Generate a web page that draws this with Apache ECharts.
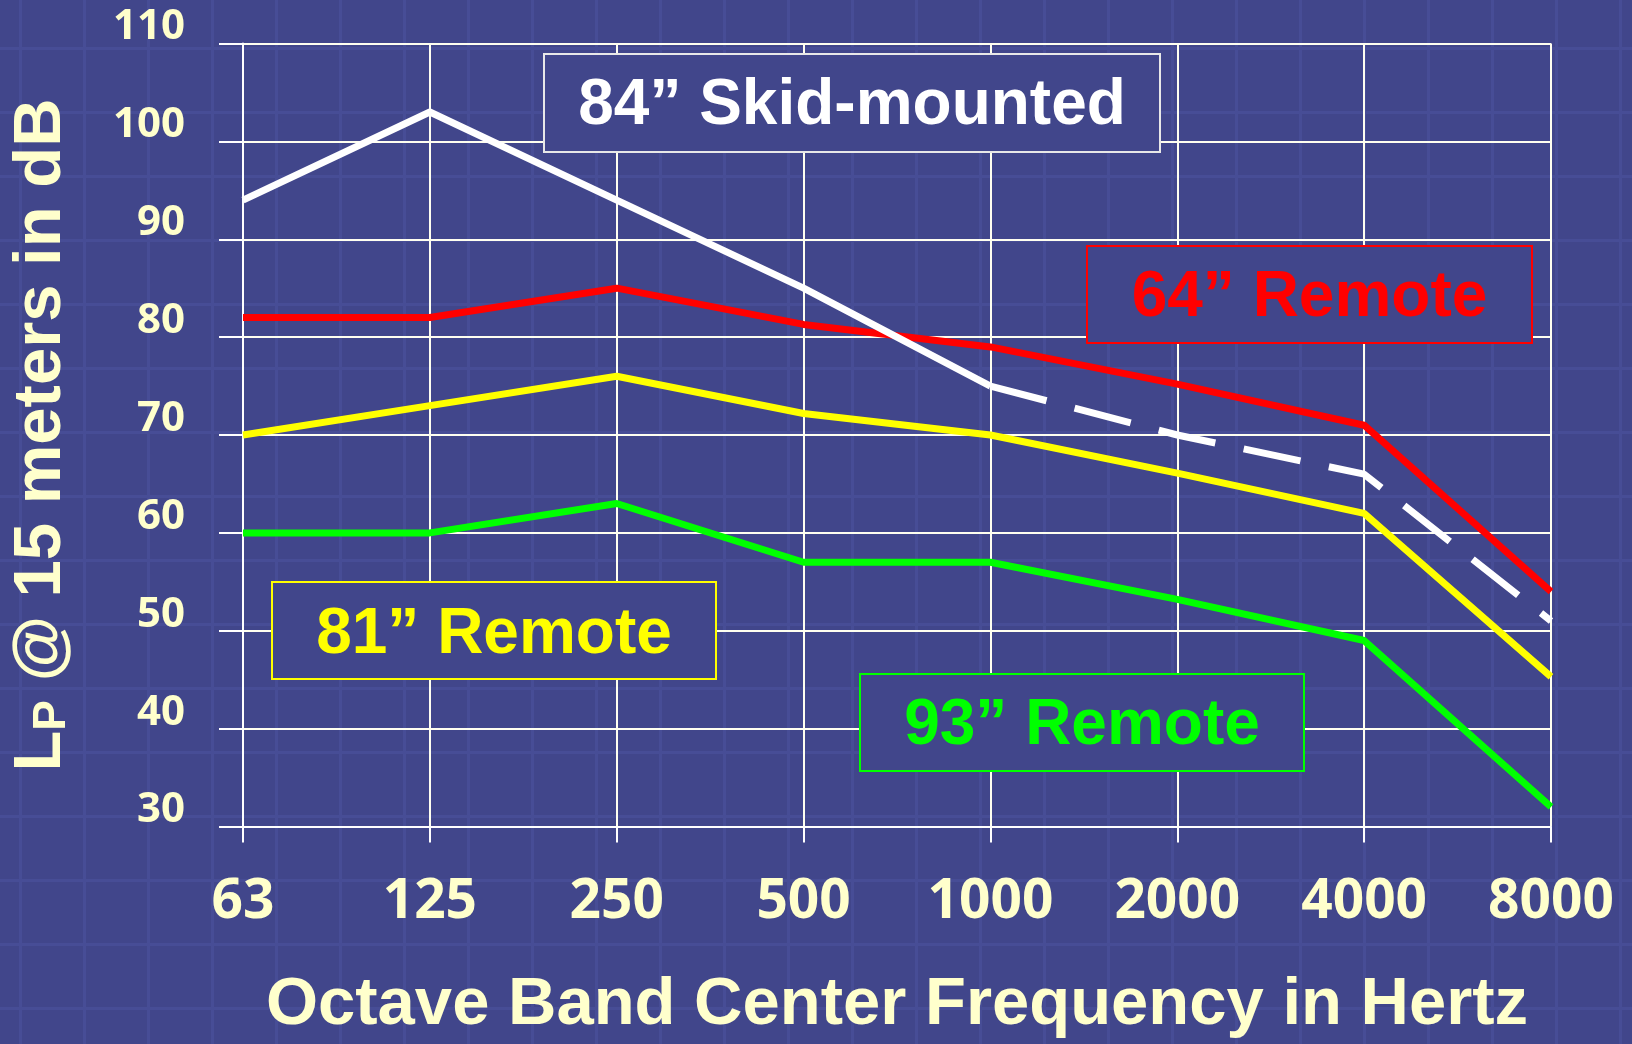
<!DOCTYPE html>
<html>
<head>
<meta charset="utf-8">
<title>Octave band levels at 15 m</title>
<script src="https://cdn.jsdelivr.net/npm/echarts@6/dist/echarts.min.js"></script>
<style>
html, body { margin:0; padding:0; }
#main {
  width:1632px;
  height:1044px;
  background-color:#41468b;
  /* faint slide grid behind the chart */
  background-image:
    linear-gradient(to right, #474d96 3px, transparent 3px),
    linear-gradient(to bottom, #474d96 3px, transparent 3px);
  background-size:64px 64px;
  background-position:19px 47px;
}
</style>
</head>
<body>
<div id="main"></div>
<script>
// octave band centres (Hz)
const freqs = ['63', '125', '250', '500', '1000', '2000', '4000', '8000'];

// Lp @ 15 m in dB
const skid84   = [94, 103, 94, 85, 75, 70, 66, 51];
const remote64 = [82, 82, 85, 81.3, 79, 75.2, 71, 54];
const remote81 = [70, 73, 76, 72.2, 70, 66.1, 62, 45.3];
const remote93 = [60, 60, 63, 57, 57, 53.2, 49, 32];

// skid curve is dashed from 1000 Hz up
const dashFrom = 4;
const skidSolid  = skid84.map((v, i) => (i <= dashFrom ? v : null));
const skidDashed = skid84.map((v, i) => (i >= dashFrom ? v : null));

const yMin = 30, yMax = 110, yStep = 10;

const bg = '#41468b';
const cream = '#ffffcc';
const titleFont = '"Liberation Sans", Arial, sans-serif';
const tickFont = '"Open Sans", "Liberation Sans", sans-serif';

function box(x, y, w, h, border, color, text, ty) {
  return [
    {
      type: 'rect', z: 100,
      shape: { x: x, y: y, width: w, height: h },
      style: { fill: bg, stroke: border, lineWidth: 2 }
    },
    {
      type: 'text', z: 101,
      x: x + w / 2, y: ty,
      style: {
        text: text, fill: color,
        font: 'bold 64px ' + titleFont,
        align: 'center', verticalAlign: 'middle'
      }
    }
  ];
}

const chart = echarts.init(document.getElementById('main'), null, { renderer: 'canvas' });

const option = {
  backgroundColor: 'transparent',
  animation: false,
  grid: { left: 243, right: 81, top: 43.5, bottom: 211, containLabel: false },
  xAxis: {
    type: 'category',
    data: freqs,
    boundaryGap: false,
    name: 'Octave Band Center Frequency in Hertz',
    nameLocation: 'middle',
    nameGap: 179,
    nameTextStyle: {
      color: cream, fontSize: 67, fontWeight: 'bold', fontFamily: titleFont,
      verticalAlign: 'middle'
    },
    axisLine: { show: true, lineStyle: { color: '#ffffff', width: 2 } },
    axisTick: { show: true, length: 16, lineStyle: { color: '#ffffff', width: 2 } },
    splitLine: { show: true, lineStyle: { color: '#fffff0', width: 2 } },
    axisLabel: {
      color: cream, fontSize: 55, fontWeight: 'bold', fontFamily: tickFont,
      margin: 76, verticalAlign: 'middle'
    }
  },
  yAxis: {
    type: 'value',
    min: yMin,
    max: yMax,
    interval: yStep,
    name: '{l|L}{p|P}{l| @ 15 meters in dB}',
    nameLocation: 'middle',
    nameGap: 168,
    nameTextStyle: {
      color: cream,
      rich: {
        l: { fontSize: 67, fontWeight: 'bold', fontFamily: titleFont, color: cream,
             lineHeight: 67, verticalAlign: 'bottom' },
        p: { fontSize: 46, fontWeight: 'bold', fontFamily: titleFont, color: cream,
             lineHeight: 34, verticalAlign: 'bottom' }
      }
    },
    axisLine: { show: true, lineStyle: { color: '#ffffff', width: 2 } },
    axisTick: { show: true, length: 24, lineStyle: { color: '#ffffff', width: 2 } },
    splitLine: { show: true, lineStyle: { color: '#fffff0', width: 2 } },
    axisLabel: {
      color: cream, fontSize: 42, fontWeight: 'bold', fontFamily: tickFont,
      margin: 58, verticalAlign: 'bottom', lineHeight: 32
    }
  },
  series: [
    {
      name: '64” Remote', type: 'line', data: remote64, symbol: 'none',
      lineStyle: { color: '#ff0000', width: 7 }
    },
    {
      name: '81” Remote', type: 'line', data: remote81, symbol: 'none',
      lineStyle: { color: '#ffff00', width: 7 }
    },
    {
      name: '93” Remote', type: 'line', data: remote93, symbol: 'none',
      lineStyle: { color: '#00ff00', width: 7 }
    },
    {
      name: '84” Skid-mounted', type: 'line', data: skidSolid, symbol: 'none',
      lineStyle: { color: '#ffffff', width: 7 }
    },
    {
      name: '84” Skid-mounted (est.)', type: 'line', data: skidDashed, symbol: 'none',
      lineStyle: { color: '#ffffff', width: 7, type: [58, 29], cap: 'butt' }
    }
  ],
  graphic: [].concat(
    box(544, 54, 616, 98, '#e8e8e8', '#ffffff', '84” Skid-mounted', 106),
    box(1087, 246, 445, 97, '#ff0000', '#ff0000', '64” Remote', 298),
    box(272, 582, 444, 97, '#ffff00', '#ffff00', '81” Remote', 635),
    box(860, 674, 444, 97, '#00ff00', '#00ff00', '93” Remote', 726)
  )
};

chart.setOption(option);
</script>
</body>
</html>
